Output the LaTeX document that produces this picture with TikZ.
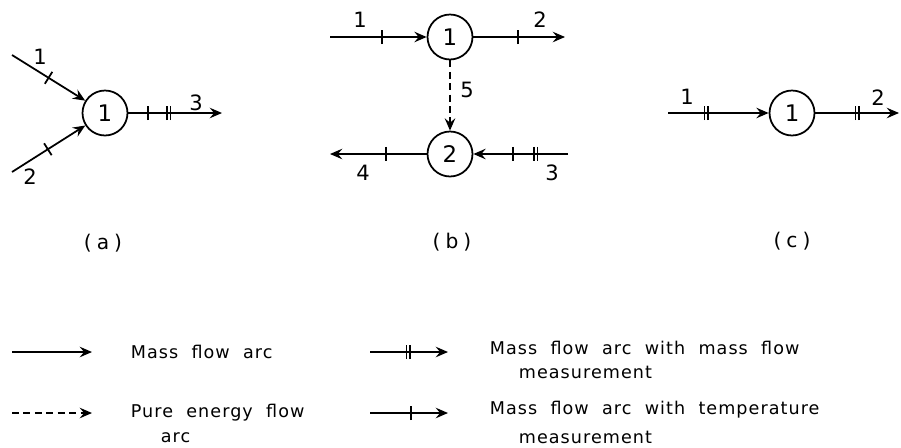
\documentclass[tikz,border=0pt]{standalone}
\usepackage{fontspec}
\setmainfont{DejaVu Sans}[LetterSpace=6,WordSpace=2]
\newfontfamily\capfont{DejaVu Sans}[LetterSpace=25]
\usetikzlibrary{arrows.meta,decorations.markings}

\begin{document}
\begin{tikzpicture}[x=0.02cm, y=-0.02cm, line width=1pt,
	>={Stealth[length=7pt,width=6pt,inset=2.5pt]},
	unit/.style={draw, circle, minimum size=0.9cm, inner sep=0pt, font=\fontsize{13}{15}\selectfont},
	lbl/.style={font=\fontsize{12}{14}\selectfont},
	capt/.style={font=\capfont\fontsize{11.5}{14}\selectfont},
	leg/.style={anchor=west, inner sep=0pt, font=\fontsize{10}{12}\selectfont},
	tmark/.style={postaction={decorate, decoration={markings,
		mark=at position #1 with {\draw[-] (0,-4pt)--(0,4pt);}}}},
	mmark/.style={postaction={decorate, decoration={markings,
		mark=at position #1 with {\draw[-] (-1pt,-4pt)--(-1pt,4pt) (1pt,-4pt)--(1pt,4pt);}}}}]
	\useasboundingbox (0,0) rectangle (901,447);
	% (a)
	\node[unit] (a1) at (105,113) {1};
	\coordinate (a1in) at (12,55);
	\coordinate (a2in) at (12,172);
	\coordinate (a3out) at (222,113);
	\draw[->, tmark=0.5] (a1in) -- (a1);
	\draw[->, tmark=0.49] (a2in) -- (a1);
	\draw[->, tmark=0.21, mmark=0.43] (a1) -- (a3out);
	\node[lbl] (la1) at (40,57) {1};
	\node[lbl] (la2) at (30,177) {2};
	\node[lbl] (la3) at (196,103) {3};
	\node[capt] (capa) at (103,243) {(a)};
	% (b)
	\node[unit] (b1) at (450,37) {1};
	\node[unit] (b2) at (450,154) {2};
	\coordinate (b1in) at (330,37);
	\coordinate (b2out) at (565,37);
	\coordinate (b3in) at (568,154);
	\coordinate (b4out) at (330,154);
	\draw[->, tmark=0.54] (b1in) -- (b1);
	\draw[->, tmark=0.49] (b1) -- (b2out);
	\draw[->, dash pattern=on 4pt off 2.5pt] (b1) -- (b2);
	\draw[->, mmark=0.34, tmark=0.58] (b3in) -- (b2);
	\draw[->, tmark=0.42] (b2) -- (b4out);
	\node[lbl] (lb1) at (360,20) {1};
	\node[lbl] (lb2) at (540,20) {2};
	\node[lbl] (lb5) at (467,90) {5};
	\node[lbl] (lb4) at (363,173) {4};
	\node[lbl] (lb3) at (552,173) {3};
	\node[capt] (capb) at (452,242) {(b)};
	% (c)
	\node[unit] (c1) at (792,113) {1};
	\coordinate (c1in) at (668,113);
	\coordinate (c2out) at (899,113);
	\draw[->, mmark=0.38] (c1in) -- (c1);
	\draw[->, mmark=0.5] (c1) -- (c2out);
	\node[lbl] (lc1) at (687,97) {1};
	\node[lbl] (lc2) at (878,98) {2};
	\node[capt] (capc) at (792,241) {(c)};
	% key
	\coordinate (k1a) at (12,352);
	\coordinate (k1b) at (92,352);
	\coordinate (k2a) at (12,413);
	\coordinate (k2b) at (92,413);
	\coordinate (k3a) at (370,352);
	\coordinate (k3b) at (448,352);
	\coordinate (k4a) at (370,413);
	\coordinate (k4b) at (448,413);
	\draw[->] (k1a) -- (k1b);
	\draw[->, dash pattern=on 4pt off 2.5pt] (k2a) -- (k2b);
	\draw[->, mmark=0.49] (k3a) -- (k3b);
	\draw[->, tmark=0.53] (k4a) -- (k4b);
	\node[leg] (t1) at (130,352) {Mass flow arc};
	\node[leg] (t2) at (130,413) {Pure energy flow};
	\node[leg] (t2b) at (160,438) {arc};
	\node[leg] (t3) at (489,348) {Mass flow arc with mass flow};
	\node[leg] (t3b) at (518,372) {measurement};
	\node[leg] (t4) at (489,410) {Mass flow arc with temperature};
	\node[leg] (t4b) at (518,437) {measurement};
\end{tikzpicture}
\end{document}
